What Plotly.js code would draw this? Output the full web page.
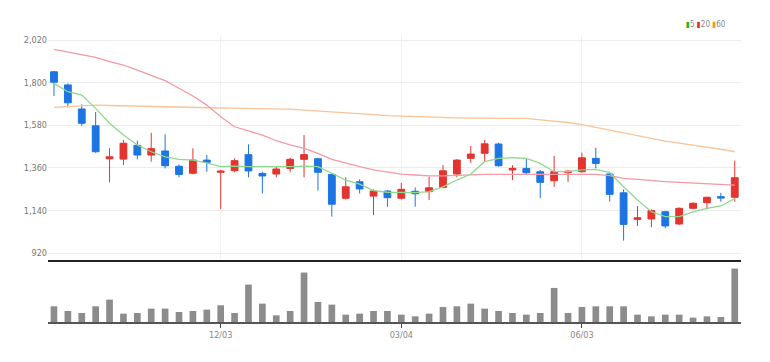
<!DOCTYPE html>
<html>
<head>
<meta charset="utf-8">
<script src="https://cdn.plot.ly/plotly-3.0.1.min.js"></script>
<style>html,body{margin:0;padding:0;background:#fff}#chart{width:770px;height:362px}</style>
</head>
<body>
<div id="chart"></div>
<script>
// Weekly candles (MM/DD)
const dates = ["09/10","09/17","09/24","10/01","10/08","10/15","10/22","10/29","11/05","11/12",
  "11/19","11/26","12/03","12/10","12/17","12/24","12/31","01/07","01/14","01/21",
  "01/28","02/04","02/11","02/18","02/25","03/04","03/11","03/18","03/25","04/01",
  "04/08","04/15","04/22","04/29","05/06","05/13","05/20","05/27","06/03","06/10",
  "06/17","06/24","07/01","07/08","07/15","07/22","07/29","08/05","08/12","08/19"];
const openP  = [1856,1788,1664,1577,1407,1405,1476,1426,1447,1368,1332,1400,1337,1345,1428,1331,1328,1357,1404,1407,
  1326,1203,1288,1214,1240,1203,1239,1237,1259,1328,1409,1435,1483,1349,1357,1340,1293,1335,1340,1409,
  1328,1231,1094,1096,1133,1070,1151,1180,1211,1208];
const highP  = [1860,1796,1688,1648,1461,1504,1500,1541,1533,1378,1461,1426,1349,1409,1481,1340,1366,1412,1529,1412,
  1331,1311,1301,1249,1246,1283,1259,1314,1374,1405,1473,1504,1490,1374,1409,1349,1421,1349,1438,1464,
  1340,1249,1163,1146,1139,1156,1182,1211,1231,1397];
const lowP   = [1731,1672,1576,1438,1285,1374,1404,1392,1357,1311,1326,1340,1146,1337,1311,1228,1311,1337,1311,1242,
  1108,1197,1228,1116,1159,1197,1159,1194,1255,1311,1386,1392,1366,1297,1328,1203,1262,1288,1335,1357,
  1185,984,1060,1053,1048,1065,1146,1146,1185,1185];
const closeP = [1802,1696,1590,1443,1417,1487,1426,1459,1371,1326,1400,1388,1343,1397,1344,1318,1354,1404,1428,1337,
  1172,1262,1251,1240,1206,1249,1226,1257,1345,1400,1431,1484,1371,1357,1335,1285,1340,1343,1412,1383,
  1223,1068,1102,1139,1060,1151,1177,1208,1204,1309];
const ma5  = [1796,1753,1736,1667,1590,1529,1478,1443,1417,1404,1400,1386,1366,1369,1366,1366,1364,1366,1369,1366,
  1332,1297,1276,1242,1234,1234,1232,1237,1262,1297,1328,1392,1409,1412,1409,1383,1340,1340,1349,1352,
  1335,1262,1194,1133,1108,1108,1133,1151,1163,1201];
const ma20 = [1972,1958,1944,1931,1908,1891,1865,1839,1810,1771,1731,1684,1624,1572,1550,1529,1500,1478,1461,1435,
  1404,1383,1366,1349,1337,1328,1323,1318,1318,1321,1326,1326,1326,1326,1325,1323,1323,1323,1325,1326,
  1320,1306,1300,1293,1289,1285,1282,1280,1277,1271];
const ma60 = [1672,1677,1681,1684,1682,1680,1679,1677,1674,1672,1671,1670,1669,1668,1667,1666,1665,1663,1658,1654,
  1650,1646,1640,1635,1630,1627,1625,1622,1620,1618,1617,1616,1616,1616,1615,1608,1601,1594,1583,1568,
  1555,1540,1526,1512,1498,1488,1478,1469,1456,1443];
const volume = [47,33,27,47,67,25,27,40,40,30,33,37,50,27,112,55,20,33,148,60,
  52,22,25,33,33,22,17,25,45,47,55,40,33,27,22,27,102,27,45,47,
  47,47,22,17,22,22,13,17,15,160];
const tickDates = ["12/03","03/04","06/03"];
const priceTicks = [920,1140,1360,1580,1800,2020];

const FONT = "DejaVu Sans Condensed, Liberation Sans Narrow, sans-serif";
const RED = "#e3342f", BLUE = "#1d74e3";

const traces = [
  {type:"candlestick", x:dates, open:openP, high:highP, low:lowP, close:closeP,
   xaxis:"x", yaxis:"y", showlegend:false, hoverinfo:"skip", whiskerwidth:0,
   increasing:{line:{color:RED,width:1}, fillcolor:RED},
   decreasing:{line:{color:BLUE,width:1}, fillcolor:BLUE}},
  {type:"scatter", mode:"lines", x:dates, y:ma60, line:{color:"#f8c49a",width:1.3}, xaxis:"x", yaxis:"y", showlegend:false, hoverinfo:"skip"},
  {type:"scatter", mode:"lines", x:dates, y:ma20, line:{color:"#f39aa6",width:1.3}, xaxis:"x", yaxis:"y", showlegend:false, hoverinfo:"skip"},
  {type:"scatter", mode:"lines", x:dates, y:ma5, line:{color:"#8fd88f",width:1.3}, xaxis:"x", yaxis:"y", showlegend:false, hoverinfo:"skip"},
  {type:"bar", x:dates, y:volume, marker:{color:"#8c8c8c"}, width:0.48, xaxis:"x2", yaxis:"y2", showlegend:false, hoverinfo:"skip"}
];

const layout = {
  width:770, height:362,
  margin:{l:48, r:29, t:35, b:40},
  paper_bgcolor:"#fff", plot_bgcolor:"#fff",
  font:{family:FONT, size:9, color:"#888"},
  showlegend:false,
  boxgap:0.3, boxgroupgap:0.3,
  xaxis:{type:"category", anchor:"y", domain:[0,1], range:[-0.43,49.45],
    showline:true, linecolor:"#222", linewidth:2, showticklabels:false, ticks:"",
    showgrid:true, gridcolor:"#f2f2f2", gridwidth:1, tickmode:"array", tickvals:tickDates,
    rangeslider:{visible:false}, zeroline:false, fixedrange:true},
  yaxis:{domain:[0.216,1], range:[884,2046], tickmode:"array", tickvals:priceTicks,
    tickformat:",d", showgrid:true, gridcolor:"#ececec", gridwidth:1, zeroline:false,
    showline:false, ticks:"", tickfont:{family:FONT, size:9, color:"#777"}, fixedrange:true},
  xaxis2:{type:"category", anchor:"y2", domain:[0,1], range:[-0.43,49.45],
    showline:true, linecolor:"#555", linewidth:1.5, ticks:"outside", ticklen:4, tickcolor:"#444",
    tickmode:"array", tickvals:tickDates, tickfont:{family:FONT, size:9, color:"#888"},
    showgrid:false, zeroline:false, fixedrange:true},
  yaxis2:{domain:[0,0.199], range:[0,171], showticklabels:false, showgrid:false, zeroline:false,
    showline:false, ticks:"", fixedrange:true},
  annotations:[{xref:"paper", yref:"paper", x:0.981, y:1.038, xanchor:"right", yanchor:"middle",
    showarrow:false, font:{family:FONT, size:8, color:"#888"},
    text:"<span style='color:#27b327'>▮</span>5 <span style='color:#e0302f'>▮</span>20 <span style='color:#f09a2a'>▮</span>60"}]
};

Plotly.newPlot("chart", traces, layout, {displayModeBar:false, staticPlot:true});
</script>
</body>
</html>
